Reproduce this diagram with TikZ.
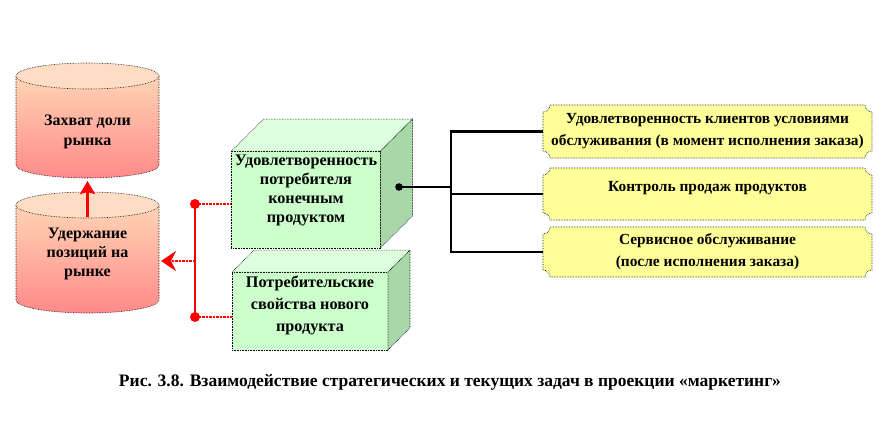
\documentclass[tikz,border=0pt]{standalone}
\usepackage{fontspec}
\setmainfont{Liberation Serif}
\usetikzlibrary{arrows.meta,backgrounds}

\definecolor{peach}{HTML}{FFDCC4}
\definecolor{bodytop}{HTML}{FFD4B4}
\definecolor{rose}{HTML}{FF8A8A}
\definecolor{mint}{HTML}{CCFFCC}
\definecolor{mintlight}{HTML}{DDFFDD}
\definecolor{mintdark}{HTML}{A8D8A8}
\definecolor{lemon}{HTML}{FFFF99}

\tikzset{
  edge/.style={draw, densely dotted, line width=0.6pt},
  txt/.style={font=\bfseries\fontsize{16}{19.5}\selectfont, align=center},
  face/.style={edge, fill=mint, outer sep=0pt, txt},
  tag/.style={outer sep=0pt, minimum width=329pt, txt,
    font=\bfseries\fontsize{15.4}{22}\selectfont},
  redline/.style={draw=red, line width=2.6pt},
  reddash/.style={redline, dash pattern=on 2.5pt off 1pt},
  blackline/.style={line width=2.2pt},
}

% cylinder body + top lid
\newcommand\drum[2]{%
  \shade[top color=bodytop, bottom color=rose] (16,#1) -- (16,#2)
    arc[start angle=180, end angle=360, x radius=71.5, y radius=13] -- (159,#1) -- cycle;
  \draw[edge] (16,#1) -- (16,#2)
    arc[start angle=180, end angle=360, x radius=71.5, y radius=13] -- (159,#1);
  \draw[edge, fill=peach] (87.5,#1) ellipse[x radius=71.5, y radius=13];
}

% top and side of a green box
\newcommand\cube[2]{%
  \draw[edge, fill=mintlight] (#1.north west) -- ++(#2,#2)
    -- ([shift={(#2,#2)}]#1.north east) -- (#1.north east) -- cycle;
  \draw[edge, fill=mintdark] (#1.north east) -- ++(#2,#2)
    -- ([shift={(#2,#2)}]#1.south east) -- (#1.south east) -- cycle;
}

% yellow plate with cut-in corners
\newcommand\plaque[1]{%
  \draw[edge, fill=lemon] ([xshift=7pt]#1.north west) -- ([xshift=-7pt]#1.north east)
    arc[start angle=180, end angle=270, radius=7pt]
    -- ([yshift=7pt]#1.south east)
    arc[start angle=90, end angle=180, radius=7pt]
    -- ([xshift=7pt]#1.south west)
    arc[start angle=0, end angle=90, radius=7pt]
    -- ([yshift=-7pt]#1.north west)
    arc[start angle=270, end angle=360, radius=7pt] -- cycle;
}

\begin{document}
\begin{tikzpicture}[x=1pt,y=1pt]
  \useasboundingbox (0,0) rectangle (896,420);

  % cylinders
  \drum{344}{255}
  \drum{215}{120}
  \node[txt] (grab) at (87.5,288) {Захват доли\\рынка};
  \node[txt, font=\bfseries\fontsize{16}{19}\selectfont] (hold) at (87.5,166)
    {Удержание\\позиций на\\рынке};
  \coordinate (grab-b) at (87.5,239);
  \coordinate (hold-t) at (87.5,203);
  \coordinate (hold-e) at (161,159);
  \draw[redline, -{Stealth[length=13pt,width=15pt,inset=2pt]}] (hold-t) -- (grab-b);

  % green boxes
  \node[face, font=\bfseries\fontsize{16.2}{19}\selectfont, minimum width=148pt,
    minimum height=95pt, text depth=22.5pt] (b1) at (306,220.5)
    {Удовлетворенность\\потребителя\\конечным\\продуктом};
  \node[face, font=\bfseries\fontsize{16.2}{22}\selectfont, minimum width=156pt,
    minimum height=72pt, text depth=15.5pt] (b2) at (310,109)
    {Потребительские\\свойства нового\\продукта};
  \cube{b1}{32}
  \cube{b2}{22}

  % red bracket
  \coordinate (r1) at (195,216);
  \coordinate (r2) at (195,103);
  \coordinate (rm) at (195,159);
  \draw[reddash] (r1) -- (b1.west |- r1);
  \draw[reddash] (r2) -- (b2.west |- r2);
  \draw[redline] (r1) -- (r2);
  \fill[red] (r1) circle (5pt);
  \fill[red] (r2) circle (5pt);
  \draw[reddash, -{Stealth[length=15pt,width=20pt,inset=5pt]}] (rm) -- (hold-e);

  % yellow plates
  \node[tag, minimum height=53pt] (yA) at (707.5,288.5)
    {Удовлетворенность клиентов условиями\\обслуживания (в момент исполнения заказа)};
  \node[tag, minimum height=52pt, text depth=16pt] (yB) at (707.5,226)
    {Контроль продаж продуктов};
  \node[tag, minimum height=50pt] (yC) at (707.5,168)
    {Сервисное обслуживание\\(после исполнения заказа)};
  \begin{scope}[on background layer]
    \plaque{yA}
    \plaque{yB}
    \plaque{yC}
  \end{scope}

  % black links
  \coordinate (hub) at (399,233);
  \coordinate (sp) at (451,233);
  \draw[blackline] (hub) -- (sp);
  \draw[blackline] (yA.west) -- (sp |- yA.west) -- (sp |- yC.west) -- (yC.west);
  \draw[blackline] (sp |- yB.west) -- (yB.west);
  \fill (hub) circle (3.8pt);

  \node[font=\bfseries\fontsize{17.5}{20}\selectfont] (cap) at (450,38)
    {Рис. 3.8. Взаимодействие стратегических и текущих задач в проекции «маркетинг»};
\end{tikzpicture}
\end{document}
